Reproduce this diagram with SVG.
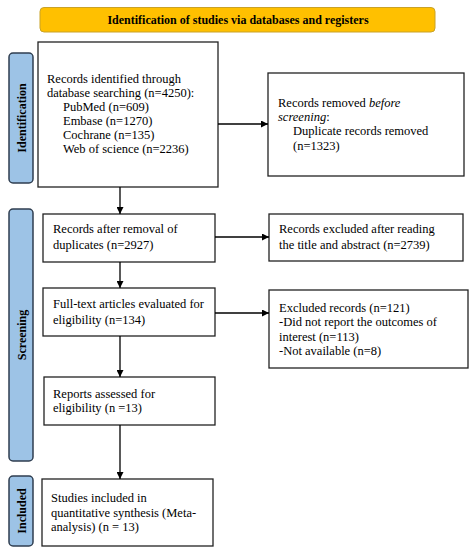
<svg xmlns="http://www.w3.org/2000/svg" width="473" height="550" viewBox="0 0 473 550">
<style>
text{font-family:"Liberation Serif","Times New Roman",serif;font-size:12.5px;fill:#000}
.box{fill:#fff;stroke:#222;stroke-width:1.3}
.side{fill:#9DC3E6;stroke:#2F3E50;stroke-width:1.5}
.sl{font-weight:bold;font-size:12px;text-anchor:middle}
.ttl{font-weight:bold;font-size:12px;text-anchor:middle}
.conn line{stroke:#000;stroke-width:1.3;marker-end:url(#ah)}
</style>
<defs>
<marker id="ah" viewBox="0 0 10 10" refX="10" refY="5" markerWidth="7" markerHeight="7" markerUnits="userSpaceOnUse" orient="auto"><path d="M0,0 L10,5 L0,10 z" fill="#000"/></marker>
</defs>
<g id="title">
<rect x="40" y="7.5" width="395" height="24.5" rx="4" fill="#FFC000" stroke="#C9A227" stroke-width="1"/>
<text class="ttl" x="238" y="24">Identification of studies via databases and registers</text>
</g>
<g id="lbl-identification">
<rect class="side" x="9" y="53" width="24" height="130" rx="4"/>
<text class="sl" transform="translate(25.5,118) rotate(-90)">Identification</text>
</g>
<g id="lbl-screening">
<rect class="side" x="9" y="209" width="24" height="252" rx="4"/>
<text class="sl" transform="translate(25.5,335) rotate(-90)">Screening</text>
</g>
<g id="lbl-included">
<rect class="side" x="9" y="476" width="24" height="70" rx="4"/>
<text class="sl" transform="translate(25.5,511) rotate(-90)">Included</text>
</g>
<g id="n1">
<rect class="box" x="38" y="42" width="180" height="145"/>
<text x="47" y="83">Records identified through</text>
<text x="47" y="97">database searching (n=4250):</text>
<text x="63" y="111">PubMed (n=609)</text>
<text x="63" y="125">Embase (n=1270)</text>
<text x="63" y="139">Cochrane (n=135)</text>
<text x="63" y="153">Web of science (n=2236)</text>
</g>
<g id="n2">
<rect class="box" x="268" y="73" width="196" height="103"/>
<text x="278" y="107">Records removed <tspan font-style="italic">before</tspan></text>
<text x="278" y="121"><tspan font-style="italic">screening</tspan>:</text>
<text x="293" y="135">Duplicate records removed</text>
<text x="293" y="150">(n=1323)</text>
</g>
<g id="n3">
<rect class="box" x="43" y="214" width="172" height="48"/>
<text x="53" y="233">Records after removal of</text>
<text x="53" y="249">duplicates (n=2927)</text>
</g>
<g id="n4">
<rect class="box" x="269" y="214" width="194" height="47"/>
<text x="279" y="233">Records excluded after reading</text>
<text x="279" y="249">the title and abstract (n=2739)</text>
</g>
<g id="n5">
<rect class="box" x="43" y="288" width="172" height="48"/>
<text x="53" y="308">Full-text articles evaluated for</text>
<text x="53" y="324">eligibility (n=134)</text>
</g>
<g id="n6">
<rect class="box" x="269" y="290" width="199" height="78"/>
<text x="279" y="312">Excluded records (n=121)</text>
<text x="279" y="326">-Did not report the outcomes of</text>
<text x="279" y="341">interest (n=113)</text>
<text x="279" y="355">-Not available (n=8)</text>
</g>
<g id="n7">
<rect class="box" x="44" y="377" width="171" height="48"/>
<text x="53" y="398">Reports assessed for</text>
<text x="53" y="412">eligibility (n =13)</text>
</g>
<g id="n8">
<rect class="box" x="42" y="479" width="171" height="67"/>
<text x="51" y="502">Studies included in</text>
<text x="51" y="517">quantitative synthesis (Meta-</text>
<text x="51" y="531">analysis) (n = 13)</text>
</g>
<g class="conn" id="connectors">
<line x1="218" y1="124" x2="268" y2="124"/>
<line x1="120" y1="187" x2="120" y2="214"/>
<line x1="215" y1="237" x2="269" y2="237"/>
<line x1="120" y1="262" x2="120" y2="288"/>
<line x1="215" y1="313" x2="269" y2="313"/>
<line x1="120" y1="336" x2="120" y2="377"/>
<line x1="120" y1="425" x2="120" y2="479"/>
</g>
</svg>
